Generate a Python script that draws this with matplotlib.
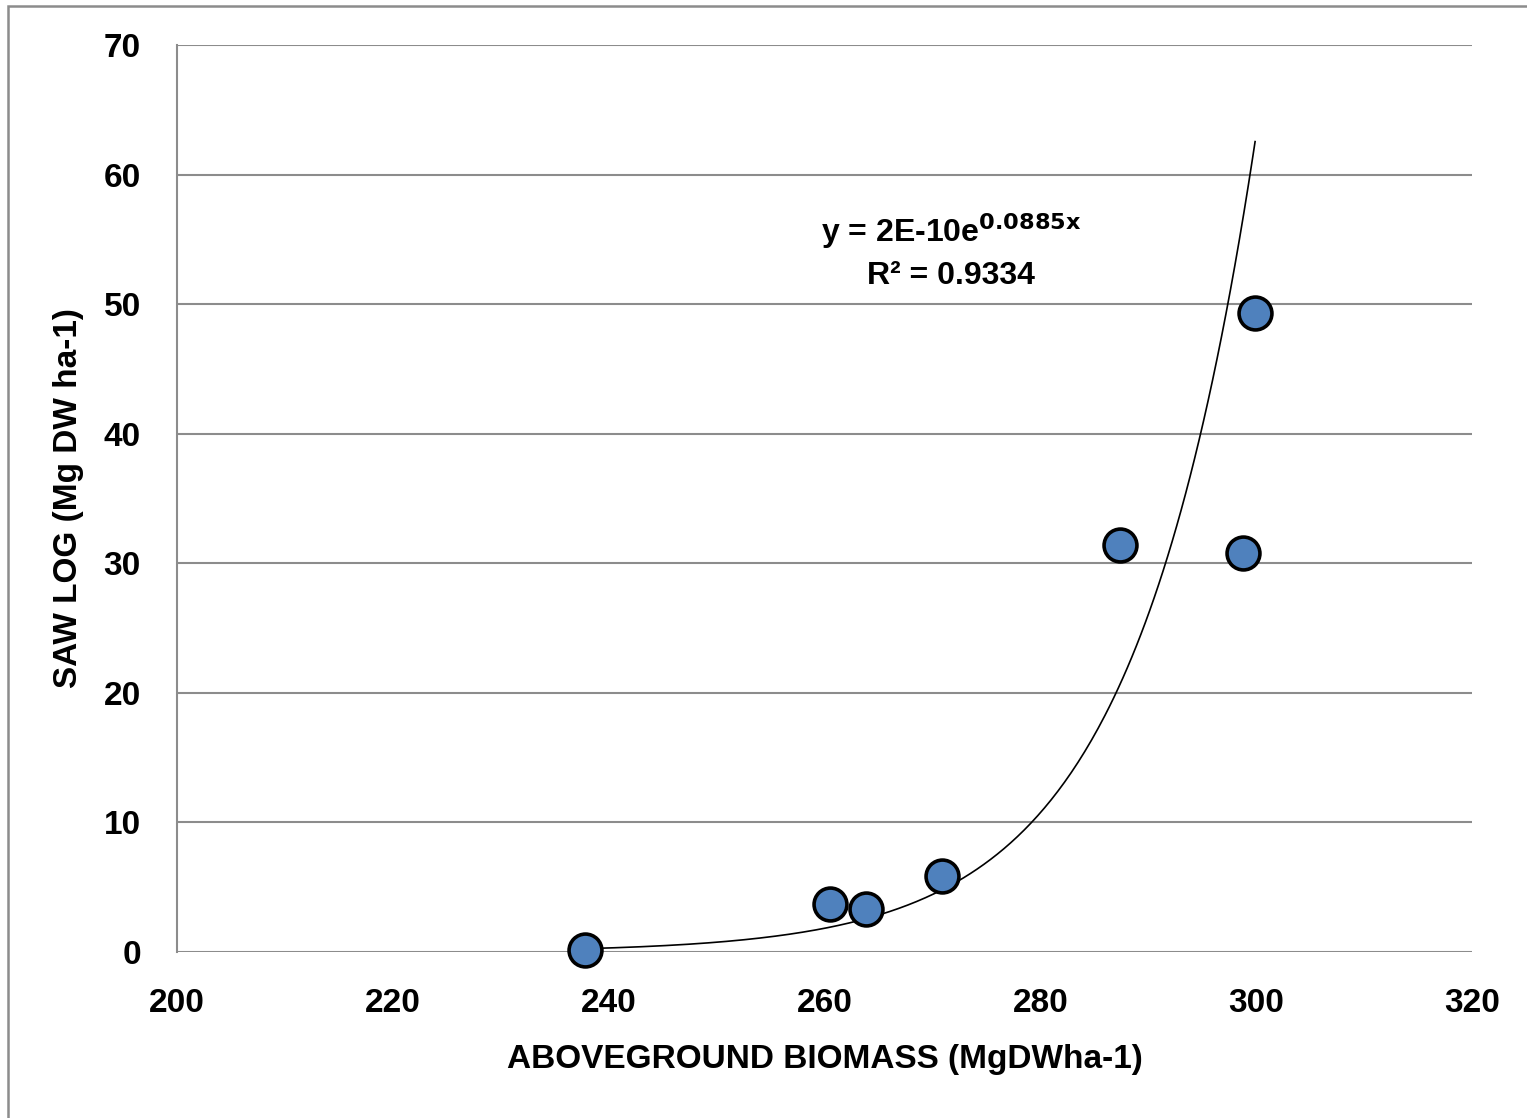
import matplotlib
matplotlib.use('Agg')
import matplotlib.pyplot as plt
from matplotlib.patches import Rectangle
import numpy as np

# ── DATA ──────────────────────────────────────────────────────
biomass = [237.8, 260.5, 263.8, 270.9, 287.4, 298.8, 299.9]
saw_log = [0.15, 3.7, 3.3, 5.9, 31.4, 30.8, 49.3]

# exponential trend line as drawn (y = a * e^(b x))
TREND_A = 1.86e-10
TREND_B = 0.0885
x_ticks = [200, 220, 240, 260, 280, 300, 320]
y_ticks = [0, 10, 20, 30, 40, 50, 60, 70]

plt.rcParams['font.family'] = ['Liberation Sans Narrow', 'Liberation Sans', 'DejaVu Sans']
plt.rcParams['font.weight'] = 'bold'
plt.rcParams['mathtext.fontset'] = 'custom'
plt.rcParams['mathtext.bf'] = 'Liberation Sans Narrow:bold'

W, H = 1527, 1118
fig = plt.figure(figsize=(W / 100, H / 100), dpi=100)
ax = fig.add_axes([177 / W, 1 - 952 / H, (1472 - 177) / W, (952 - 45) / H])

# outer chart frame
fig.patches.append(Rectangle((8 / W, -0.1), 1.2, 1 - 6 / H + 0.1,
                             transform=fig.transFigure, fill=False,
                             edgecolor='#8c8c8c', lw=1.8))

# trend line
xs = np.linspace(min(biomass), max(biomass), 300)
ax.plot(xs, TREND_A * np.exp(TREND_B * xs), color='black', lw=1.2, zorder=3)

# points
ax.scatter(biomass, saw_log, s=560, color='#4F81BD', edgecolor='black',
           linewidth=2.6, zorder=4, clip_on=False)

ax.set_xlim(200, 320)
ax.set_ylim(0, 70)
ax.set_xticks(x_ticks)
ax.set_yticks(y_ticks)
ax.tick_params(length=0, labelsize=24)
ax.tick_params(axis='y', pad=26)
ax.tick_params(axis='x', pad=26)
for lab in ax.get_xticklabels() + ax.get_yticklabels():
    lab.set_fontweight('bold')

ax.grid(axis='y', color='#8c8c8c', lw=1.5)
ax.set_axisbelow(True)
for s in ['top', 'right', 'bottom']:
    ax.spines[s].set_visible(False)
ax.spines['left'].set_color('#8c8c8c')
ax.spines['left'].set_linewidth(1.5)

ax.set_xlabel("ABOVEGROUND BIOMASS (MgDWha-1)", fontsize=24,
              fontweight='bold', labelpad=18)
ax.set_ylabel("SAW LOG (Mg DW ha-1)", fontsize=24, fontweight='bold',
              labelpad=14)

ax.text(0.598, 0.795, r"y = 2E-10e$^{\mathbf{0.0885x}}$", transform=ax.transAxes,
        ha='center', va='center', fontsize=23, fontweight='bold')
ax.text(0.598, 0.745, "R² = 0.9334", transform=ax.transAxes,
        ha='center', va='center', fontsize=23, fontweight='bold')

plt.savefig("out.png", dpi=100)
